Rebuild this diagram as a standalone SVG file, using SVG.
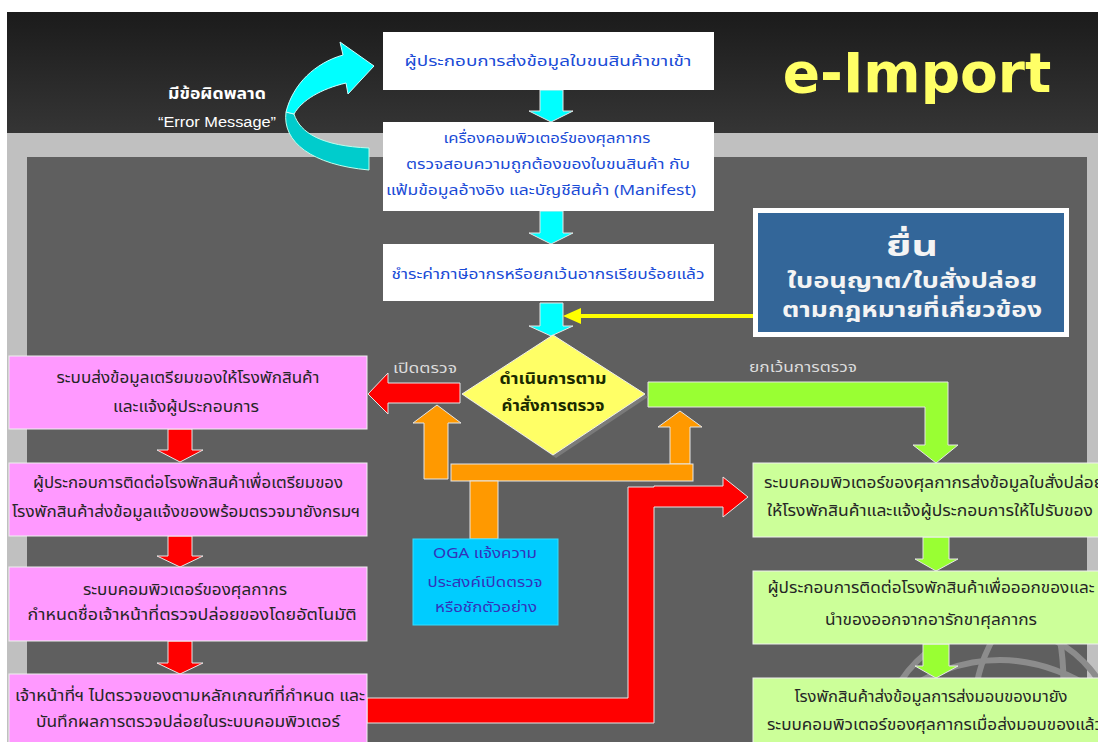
<svg xmlns="http://www.w3.org/2000/svg" width="1098" height="742" viewBox="0 0 1098 742">
<defs>
<linearGradient id="topband" x1="0" y1="0" x2="0" y2="1">
<stop offset="0" stop-color="#1b1b1b"/>
<stop offset="1" stop-color="#353535"/>
</linearGradient>
</defs>
<style>
.th{font-family:"Noto Sans Thai","Loma","Tahoma","Noto Sans","DejaVu Sans",sans-serif;text-anchor:middle}
.blue{fill:#1a4bd6;font-size:14px}
.dark{fill:#262626;font-size:15.5px}
.lbl{fill:#dcdcdc;font-size:14.5px}
.wbox{fill:#ffffff}
.pink{fill:#ff99ff;stroke:#f0f0f0;stroke-width:1}
.green{fill:#ccff99;stroke:#f0f0f0;stroke-width:1}
.arrow{stroke:#e6e6e6;stroke-width:1}
</style>
<rect x="0" y="0" width="1098" height="742" fill="#ffffff"/>
<rect x="7" y="12" width="1091" height="121" fill="url(#topband)"/>
<rect x="7" y="133" width="1091" height="609" fill="#c0c0c0"/>
<rect x="27" y="157" width="1060" height="585" fill="#5f5f5f"/>
<g id="globe" fill="none" stroke="#8c8c8c" stroke-width="6">
<circle cx="1000" cy="745" r="118"/>
<path d="M 890 700 Q 1000 620 1110 700"/>
<path d="M 1000 627 Q 960 690 985 745"/>
<path d="M 1060 640 Q 1070 700 1050 745"/>
</g>
<g id="title">
<text x="917" y="92" font-family="DejaVu Sans,Verdana,sans-serif" font-weight="bold" font-size="55" fill="#ffff66" text-anchor="middle">e-Import</text>
</g>
<g id="error-label">
<text class="th" x="217" y="99" fill="#ffffff" font-size="15" font-weight="bold" textLength="98" lengthAdjust="spacingAndGlyphs">มีข้อผิดพลาด</text>
<text x="217" y="127" font-family="Liberation Sans,Arial,sans-serif" font-size="14" fill="#ffffff" text-anchor="middle" textLength="118" lengthAdjust="spacingAndGlyphs">“Error Message”</text>
</g>
<g id="connectors">
<path d="M 286 112 C 282 142 312 165 369 170 L 369 148 C 322 146 300 133 294 114 Z" fill="#00cccc" stroke="#bfe" stroke-width="1"/>
<path d="M 286 112 C 293 84 315 63 343 55 L 340 42 L 374 66 L 348 94 L 346 83 C 321 89 302 100 294 114 Z" fill="#00ffff" stroke="#cff" stroke-width="1"/>
<polygon class="arrow" points="540,90 563,90 563,111 573,111 551,122 529,111 540,111" fill="#00ffff"/>
<polygon class="arrow" points="540,211 563,211 563,233 573,233 551,244 529,233 540,233" fill="#00ffff"/>
<polygon class="arrow" points="540,303 563,303 563,326 573,326 551,336 529,326 540,326" fill="#00ffff"/>
<line x1="753" y1="316" x2="575" y2="316" stroke="#ffff00" stroke-width="4"/>
<polygon points="563,316 581,308 581,324" fill="#ffff00"/>
<polygon class="arrow" points="460,383 388,383 388,373 368,394 388,414 388,403 460,403" fill="#ff0000"/>
<polygon class="arrow" points="168,429 192,429 192,450 203,450 180,462 157,450 168,450" fill="#ff0000"/>
<polygon class="arrow" points="168,536 192,536 192,556 203,556 180,567 157,556 168,556" fill="#ff0000"/>
<polygon class="arrow" points="168,641 192,641 192,663 203,663 180,674 157,663 168,663" fill="#ff0000"/>
<polygon class="arrow" points="367,698 628,698 628,487 654,487 654,486 723,486 723,477 748,497 723,517 723,507 654,507 654,723 367,723" fill="#ff0000"/>
<polygon class="arrow" points="648,382 948,382 948,445 958,445 936,463 913,445 925,445 925,407 648,407" fill="#99ff33"/>
<polygon class="arrow" points="923,537 949,537 949,559 958,559 936,571 915,559 923,559" fill="#99ff33"/>
<polygon class="arrow" points="923,644 949,644 949,666 958,666 936,678 915,666 923,666" fill="#99ff33"/>
<polygon class="arrow" points="424,479 424,423 413,423 437,405 461,423 448,423 448,479" fill="#ff9900"/>
<polygon class="arrow" points="670,464 670,427 658,427 680,411 702,427 690,427 690,464" fill="#ff9900"/>
<rect class="arrow" x="451" y="464" width="242" height="17" fill="#ff9900"/>
<rect class="arrow" x="470" y="481" width="28" height="58" fill="#ff9900"/>
<text class="th lbl" x="425" y="373" textLength="64" lengthAdjust="spacingAndGlyphs">เปิดตรวจ</text>
<text class="th lbl" x="803" y="372" textLength="108" lengthAdjust="spacingAndGlyphs">ยกเว้นการตรวจ</text>
</g>
<g id="box1">
<rect class="wbox" x="383" y="32" width="331" height="58"/>
<text class="th blue" x="548" y="66" textLength="287" lengthAdjust="spacingAndGlyphs">ผู้ประกอบการส่งข้อมูลใบขนสินค้าขาเข้า</text>
</g>
<g id="box2">
<rect class="wbox" x="383" y="122" width="331" height="89"/>
<text class="th blue" x="547" y="143" textLength="207" lengthAdjust="spacingAndGlyphs">เครื่องคอมพิวเตอร์ของศุลกากร</text>
<text class="th blue" x="548" y="169" textLength="284" lengthAdjust="spacingAndGlyphs">ตรวจสอบความถูกต้องของใบขนสินค้า กับ</text>
<text class="th blue" x="541" y="195" textLength="310" lengthAdjust="spacingAndGlyphs">แฟ้มข้อมูลอ้างอิง และบัญชีสินค้า (Manifest)</text>
</g>
<g id="box3">
<rect class="wbox" x="383" y="244" width="331" height="57"/>
<text class="th blue" x="548" y="279" textLength="313" lengthAdjust="spacingAndGlyphs">ชำระค่าภาษีอากรหรือยกเว้นอากรเรียบร้อยแล้ว</text>
</g>
<g id="permit">
<rect x="753" y="208" width="316" height="129" fill="#ffffff"/>
<rect x="758" y="213" width="306" height="119" fill="#336699"/>
<text class="th" x="912" y="256" fill="#f4f4f4" font-size="29" font-weight="bold" textLength="52" lengthAdjust="spacingAndGlyphs">ยื่น</text>
<text class="th" x="912" y="288" fill="#f4f4f4" font-size="21" font-weight="bold" textLength="250" lengthAdjust="spacingAndGlyphs">ใบอนุญาต/ใบสั่งปล่อย</text>
<text class="th" x="912" y="317" fill="#f4f4f4" font-size="21" font-weight="bold" textLength="260" lengthAdjust="spacingAndGlyphs">ตามกฎหมายที่เกี่ยวข้อง</text>
</g>
<g id="decision">
<polygon points="556,338 648,397 556,458 465,397" fill="#7a7a7a"/>
<polygon points="553,335 645,394 553,455 462,394" fill="#ffff66" stroke="#eeeeee" stroke-width="1"/>
<text class="th" x="553" y="384" fill="#1a2a00" font-size="16" font-weight="bold" textLength="107" lengthAdjust="spacingAndGlyphs">ดำเนินการตาม</text>
<text class="th" x="553" y="411" fill="#1a2a00" font-size="16" font-weight="bold" textLength="103" lengthAdjust="spacingAndGlyphs">คำสั่งการตรวจ</text>
</g>
<g id="oga">
<rect x="413" y="539" width="145" height="86" fill="#00ccff" stroke="#33ddff" stroke-width="1"/>
<text class="th" x="485" y="558" fill="#3333bb" font-size="14.5" textLength="104" lengthAdjust="spacingAndGlyphs">OGA แจ้งความ</text>
<text class="th" x="485" y="587" fill="#3333bb" font-size="14.5" textLength="115" lengthAdjust="spacingAndGlyphs">ประสงค์เปิดตรวจ</text>
<text class="th" x="486" y="612" fill="#3333bb" font-size="14.5" textLength="102" lengthAdjust="spacingAndGlyphs">หรือชักตัวอย่าง</text>
</g>
<g id="p1">
<rect class="pink" x="9" y="356" width="358" height="73"/>
<text class="th dark" x="188" y="383" textLength="263" lengthAdjust="spacingAndGlyphs">ระบบส่งข้อมูลเตรียมของให้โรงพักสินค้า</text>
<text class="th dark" x="186" y="412" textLength="146" lengthAdjust="spacingAndGlyphs">และแจ้งผู้ประกอบการ</text>
</g>
<g id="p2">
<rect class="pink" x="9" y="463" width="358" height="73"/>
<text class="th dark" x="188" y="488" textLength="310" lengthAdjust="spacingAndGlyphs">ผู้ประกอบการติดต่อโรงพักสินค้าเพื่อเตรียมของ</text>
<text class="th dark" x="186" y="517" textLength="348" lengthAdjust="spacingAndGlyphs">โรงพักสินค้าส่งข้อมูลแจ้งของพร้อมตรวจมายังกรมฯ</text>
</g>
<g id="p3">
<rect class="pink" x="9" y="567" width="358" height="74"/>
<text class="th dark" x="185" y="595" textLength="204" lengthAdjust="spacingAndGlyphs">ระบบคอมพิวเตอร์ของศุลกากร</text>
<text class="th dark" x="192" y="620" textLength="329" lengthAdjust="spacingAndGlyphs">กำหนดชื่อเจ้าหน้าที่ตรวจปล่อยของโดยอัตโนมัติ</text>
</g>
<g id="p4">
<rect class="pink" x="9" y="674" width="358" height="80"/>
<text class="th dark" x="190" y="701" textLength="350" lengthAdjust="spacingAndGlyphs">เจ้าหน้าที่ฯ ไปตรวจของตามหลักเกณฑ์ที่กำหนด และ</text>
<text class="th dark" x="188" y="727" textLength="304" lengthAdjust="spacingAndGlyphs">บันทึกผลการตรวจปล่อยในระบบคอมพิวเตอร์</text>
</g>
<g id="g1">
<rect class="green" x="753" y="463" width="356" height="74"/>
<text class="th dark" x="934" y="488" textLength="340" lengthAdjust="spacingAndGlyphs">ระบบคอมพิวเตอร์ของศุลกากรส่งข้อมูลใบสั่งปล่อย</text>
<text class="th dark" x="930" y="516" textLength="326" lengthAdjust="spacingAndGlyphs">ให้โรงพักสินค้าและแจ้งผู้ประกอบการให้ไปรับของ</text>
</g>
<g id="g2">
<rect class="green" x="753" y="571" width="356" height="73"/>
<text class="th dark" x="931" y="593" textLength="327" lengthAdjust="spacingAndGlyphs">ผู้ประกอบการติดต่อโรงพักสินค้าเพื่อออกของและ</text>
<text class="th dark" x="931" y="625" textLength="212" lengthAdjust="spacingAndGlyphs">นำของออกจากอารักขาศุลกากร</text>
</g>
<g id="g3">
<rect class="green" x="753" y="678" width="356" height="80"/>
<text class="th dark" x="931" y="702" textLength="273" lengthAdjust="spacingAndGlyphs">โรงพักสินค้าส่งข้อมูลการส่งมอบของมายัง</text>
<text class="th dark" x="935" y="730" textLength="336" lengthAdjust="spacingAndGlyphs">ระบบคอมพิวเตอร์ของศุลกากรเมื่อส่งมอบของแล้ว</text>
</g>
</svg>
